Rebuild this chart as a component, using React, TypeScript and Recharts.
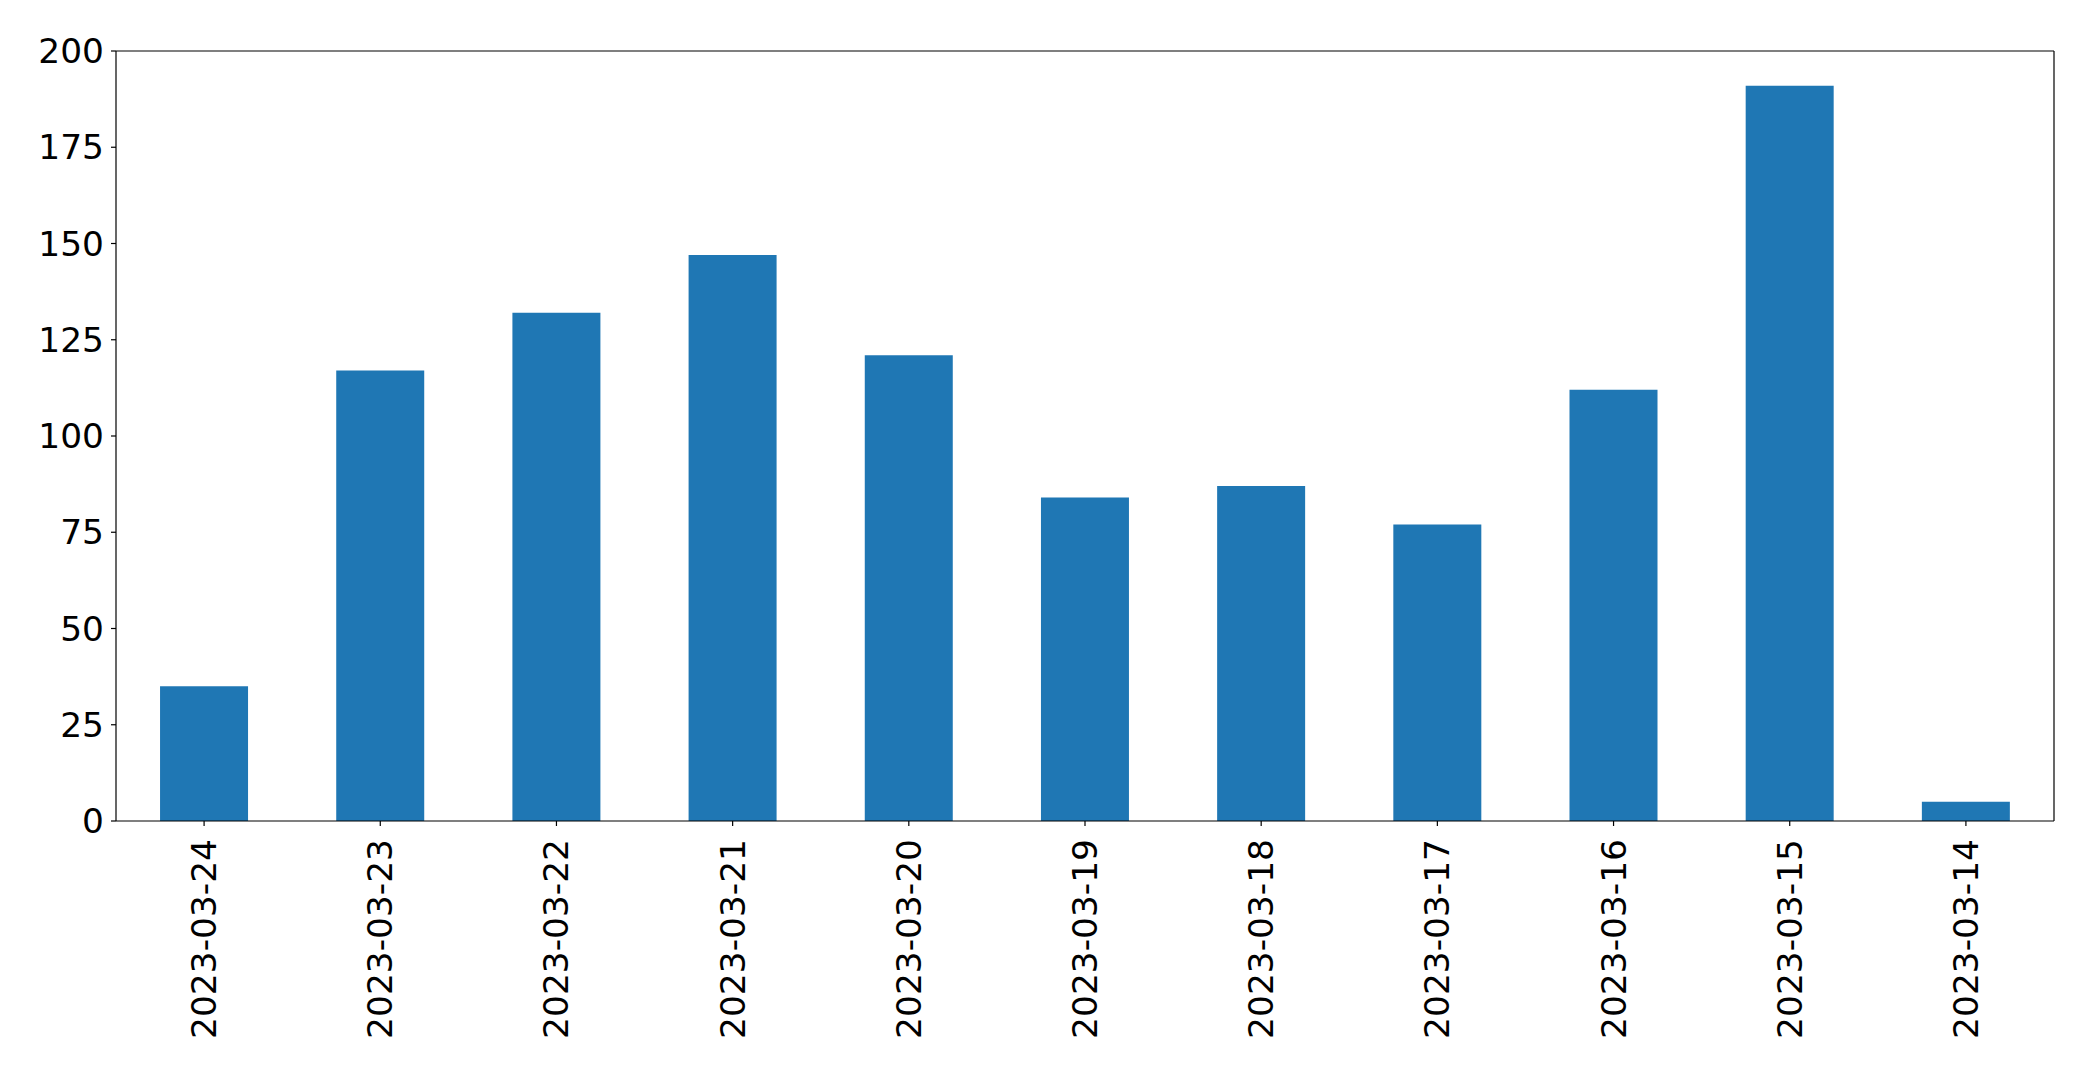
import React from 'react';
import { BarChart, Bar, XAxis, YAxis, ReferenceLine } from 'recharts';

const categories = ['2023-03-24', '2023-03-23', '2023-03-22', '2023-03-21', '2023-03-20', '2023-03-19', '2023-03-18', '2023-03-17', '2023-03-16', '2023-03-15', '2023-03-14'];
const counts = [35, 117, 132, 147, 121, 84, 87, 77, 112, 191, 5];
const yTicks = [0, 25, 50, 75, 100, 125, 150, 175, 200];

const data = categories.map((c, i) => ({ date: c, count: counts[i] }));

const FONT = '"DejaVu Sans", sans-serif';
const FS = 34.4;

const XTick = (props: any) => {
  const { x, y, payload } = props;
  return (
    <text
      x={x}
      y={y + 11}
      transform={`rotate(-90, ${x}, ${y + 11})`}
      textAnchor="end"
      dominantBaseline="central"
      fontFamily={FONT}
      fontSize={FS}
      fill="#000"
    >
      {payload.value}
    </text>
  );
};

const YTick = (props: any) => {
  const { x, y, payload } = props;
  return (
    <text
      x={x - 2}
      y={y}
      textAnchor="end"
      dominantBaseline="central"
      fontFamily={FONT}
      fontSize={FS}
      fill="#000"
    >
      {payload.value}
    </text>
  );
};

export default function App() {
  return (
    <div style={{ position: 'absolute', left: 0, top: 0, background: '#fff' }}>
      <BarChart
        width={2093}
        height={1073}
        data={data}
        margin={{ top: 51, right: 39, left: 0, bottom: 0 }}
        barCategoryGap="25%"
      >
        <XAxis
          dataKey="date"
          height={252}
          interval={0}
          tick={<XTick />}
          tickSize={5}
          tickLine={{ stroke: '#000', strokeWidth: 1.2 }}
          axisLine={{ stroke: '#000', strokeWidth: 1.2 }}
        />
        <YAxis
          width={116}
          domain={[0, 200]}
          ticks={yTicks}
          interval={0}
          tick={<YTick />}
          tickSize={5}
          tickMargin={5}
          tickLine={{ stroke: '#000', strokeWidth: 1.2 }}
          axisLine={{ stroke: '#000', strokeWidth: 1.2 }}
        />
        <Bar dataKey="count" fill="#1f77b4" isAnimationActive={false} />
        <ReferenceLine y={200} stroke="#000" strokeWidth={1.2} ifOverflow="visible" />
        <ReferenceLine
          x={categories[categories.length - 1]}
          position="end"
          stroke="#000"
          strokeWidth={1.2}
          ifOverflow="visible"
        />
      </BarChart>
    </div>
  );
}
